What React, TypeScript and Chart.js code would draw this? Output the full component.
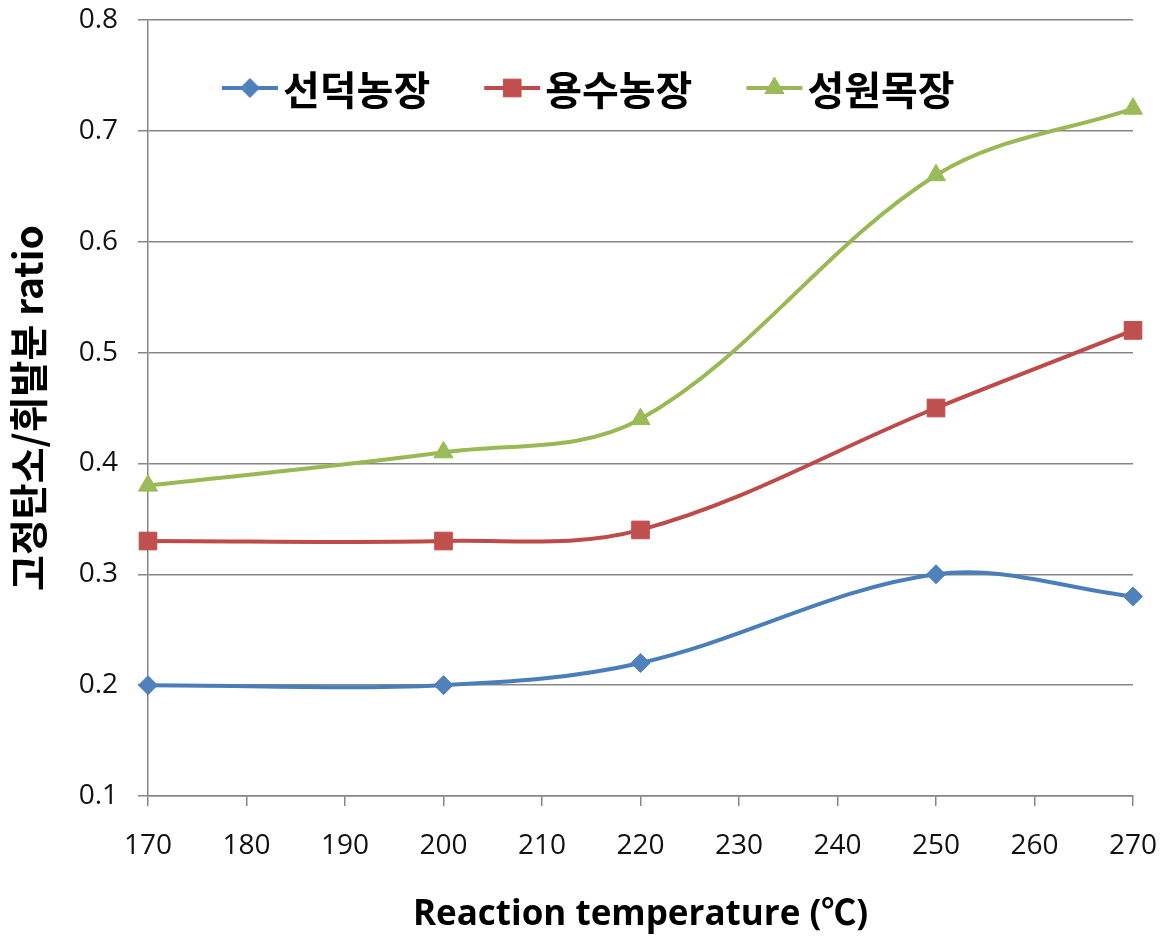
import React, { useEffect, useRef } from 'react';
import { Chart, registerables } from 'chart.js';
import { drawPoint } from 'chart.js/helpers';

Chart.register(...registerables);

// Reaction temperature (°C) at which each sample was measured
const temperatures = [170, 200, 220, 250, 270];

// Fixed carbon / volatile matter ratio per farm
const seondeokValues = [0.2, 0.2, 0.22, 0.3, 0.28];
const yongsuValues = [0.33, 0.33, 0.34, 0.45, 0.52];
const seongwonValues = [0.38, 0.41, 0.44, 0.66, 0.72];

const seriesNames = ['선덕농장', '용수농장', '성원목장'];

const xTickValues = [170, 180, 190, 200, 210, 220, 230, 240, 250, 260, 270];
const yTickValues = [0.1, 0.2, 0.3, 0.4, 0.5, 0.6, 0.7, 0.8];
const yTickLabels = ['0.1', '0.2', '0.3', '0.4', '0.5', '0.6', '0.7', '0.8'];

const xAxisTitle = 'Reaction temperature (℃)';
const yAxisTitle = '고정탄소/휘발분 ratio';

const W = 1166;
const H = 938;
const AXIS_GRAY = '#868686';

const toPoints = (values: number[]) =>
  values.map((v, i) => ({ x: temperatures[i], y: v }));

// Legend drawn inside the plot area, in one row near the top
const insideLegend = {
  id: 'insideLegend',
  afterDatasetsDraw(chart: any) {
    const { ctx, chartArea } = chart;
    const lineLen = 56;
    const textGap = 5;
    const itemGap = 54;
    const y = chartArea.top + 68;
    let x = chartArea.left + 74;
    ctx.save();
    ctx.font = 'bold 40px "Noto Sans CJK KR"';
    ctx.textBaseline = 'middle';
    ctx.textAlign = 'left';
    chart.data.datasets.forEach((ds: any) => {
      ctx.strokeStyle = ds.borderColor;
      ctx.lineWidth = 4;
      ctx.beginPath();
      ctx.moveTo(x, y);
      ctx.lineTo(x + lineLen, y);
      ctx.stroke();
      ctx.fillStyle = ds.pointBackgroundColor;
      ctx.strokeStyle = ds.pointBorderColor;
      ctx.lineWidth = 1;
      drawPoint(
        ctx,
        { pointStyle: ds.pointStyle, radius: ds.pointRadius, borderWidth: 1, rotation: 0 },
        x + lineLen / 2,
        y
      );
      ctx.fillStyle = '#000';
      ctx.fillText(ds.label, x + lineLen + textGap, y + 2);
      x += lineLen + textGap + ctx.measureText(ds.label).width + itemGap;
    });
    ctx.restore();
  },
};

export default function App() {
  const canvasRef = useRef<HTMLCanvasElement | null>(null);

  useEffect(() => {
    const canvas = canvasRef.current;
    if (!canvas) return;

    const makeSeries = (
      label: string,
      values: number[],
      line: string,
      fill: string,
      pointStyle: string,
      radius: number
    ) => ({
      label,
      data: toPoints(values),
      borderColor: line,
      backgroundColor: fill,
      borderWidth: 4,
      pointStyle,
      pointRadius: radius,
      pointHoverRadius: radius,
      pointBackgroundColor: fill,
      pointBorderColor: fill,
      pointBorderWidth: 1,
      tension: 0.35,
      clip: false,
    });

    const chart = new Chart(canvas, {
      type: 'line',
      data: {
        datasets: [
          makeSeries(seriesNames[0], seondeokValues, '#4A7EBB', '#4F81BD', 'rectRot', 9.5),
          makeSeries(seriesNames[1], yongsuValues, '#BE4B48', '#C0504D', 'rect', 12.5),
          makeSeries(seriesNames[2], seongwonValues, '#98B954', '#9BBB59', 'triangle', 11),
        ] as any,
      },
      options: {
        responsive: false,
        animation: false,
        events: [],
        layout: { padding: { left: 0, top: 20, right: 33, bottom: 0 } },
        plugins: {
          legend: { display: false },
          tooltip: { enabled: false },
        },
        scales: {
          x: {
            type: 'linear',
            min: 170,
            max: 270,
            afterBuildTicks: (s: any) => {
              s.ticks = xTickValues.map((v) => ({ value: v }));
            },
            afterFit: (s: any) => {
              s.height = H - 796;
              s.paddingLeft = 0;
              s.paddingRight = 0;
            },
            grid: {
              drawOnChartArea: false,
              drawTicks: true,
              tickLength: 10,
              color: AXIS_GRAY,
              lineWidth: 1.5,
            },
            border: { display: true, color: AXIS_GRAY, width: 1.5 },
            ticks: {
              padding: 23,
              color: '#111',
              maxRotation: 0,
              autoSkip: false,
              font: { family: '"Open Sans", "Noto Sans CJK KR"', size: 28 },
              callback: (v: any) => String(v),
            },
            title: {
              display: true,
              text: xAxisTitle,
              color: '#000',
              padding: { top: 0, bottom: 2 },
              font: { family: '"Open Sans", "Noto Sans CJK KR"', size: 35, weight: 'bold' },
            },
          },
          y: {
            type: 'linear',
            min: 0.1,
            max: 0.8,
            afterBuildTicks: (s: any) => {
              s.ticks = yTickValues.map((v) => ({ value: v }));
            },
            afterFit: (s: any) => {
              s.width = 148;
              s.paddingTop = 0;
              s.paddingBottom = 0;
            },
            grid: {
              drawTicks: true,
              tickLength: 10,
              color: AXIS_GRAY,
              lineWidth: 1.5,
            },
            border: { display: true, color: AXIS_GRAY, width: 1.5 },
            ticks: {
              padding: 20,
              color: '#111',
              font: { family: '"Open Sans", "Noto Sans CJK KR"', size: 28 },
              callback: (_v: any, i: number) => yTickLabels[i],
            },
            title: {
              display: true,
              text: yAxisTitle,
              color: '#000',
              padding: { top: 5, bottom: 0 },
              font: { family: '"Noto Sans CJK KR"', size: 39, weight: 'bold' },
            },
          },
        },
      },
      plugins: [insideLegend],
    });

    return () => chart.destroy();
  }, []);

  return (
    <div style={{ position: 'absolute', left: 0, top: 0, width: W, height: H, background: '#fff' }}>
      <canvas ref={canvasRef} width={W} height={H} style={{ display: 'block' }} />
    </div>
  );
}
